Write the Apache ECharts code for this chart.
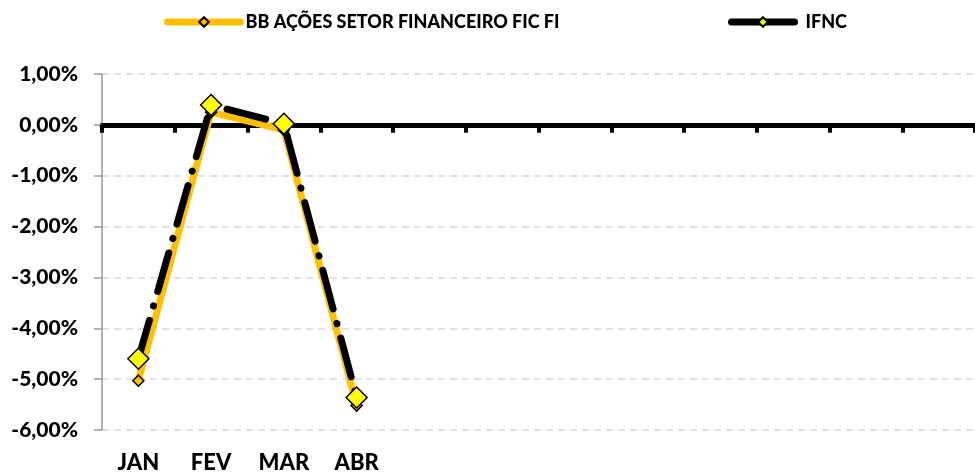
<!DOCTYPE html>
<html>
<head>
<meta charset="utf-8">
<script src="https://cdn.jsdelivr.net/npm/echarts@6/dist/echarts.min.js"></script>
<style>
  html, body { margin: 0; padding: 0; background: #fff; }
  #chart { width: 975px; height: 474px; }
</style>
</head>
<body>
<div id="chart"></div>
<script>
// meses (só os 4 primeiros têm dados)
var months = ["JAN", "FEV", "MAR", "ABR", "MAI", "JUN", "JUL", "AGO", "SET", "OUT", "NOV", "DEZ"];
// rentabilidade mensal, em %
var bbFundo = [-5.03, 0.25, -0.10, -5.52];
var ifnc = [-4.60, 0.39, 0.02, -5.36];
var nomeFundo = "BB AÇÕES SETOR FINANCEIRO FIC FI";
var nomeIndice = "IFNC";

var fonte = "Lato, 'Open Sans', sans-serif";
var chart = echarts.init(document.getElementById("chart"));

var option = {
    animation: false,
    backgroundColor: "#fff",
    textStyle: { fontFamily: fonte },
    legend: [ {
        data: [ nomeFundo ],
        left: 164,
        top: 13,
        padding: 0,
        itemWidth: 73,
        itemHeight: 12,
        lineStyle: { type: "solid", cap: "round", width: 7 },
        textStyle: { fontFamily: fonte, fontWeight: 900, fontSize: 18, color: "#000" }
    }, {
        data: [ nomeIndice ],
        left: 728,
        top: 13,
        padding: 0,
        itemWidth: 63,
        itemHeight: 12,
        lineStyle: { type: "solid", cap: "round", width: 7 },
        textStyle: { fontFamily: fonte, fontWeight: 900, fontSize: 18, color: "#000", padding: [ 0, 0, 0, 6 ] }
    } ],
    grid: { left: 102, right: 0, top: 74, bottom: 44 },
    xAxis: [ {
        type: "category",
        data: months,
        position: "bottom",
        boundaryGap: true,
        axisLine: { onZero: true, lineStyle: { color: "#000", width: 5 } },
        axisTick: { show: true, length: 8, lineStyle: { color: "#000", width: 4 } },
        axisLabel: { show: false },
        splitLine: { show: false }
    }, {
        type: "category",
        data: months,
        position: "bottom",
        boundaryGap: true,
        axisLine: { show: false, onZero: false },
        axisTick: { show: false },
        axisLabel: {
            show: true,
            margin: 22,
            interval: 0,
            fontFamily: fonte,
            fontWeight: 900,
            fontSize: 22,
            color: "#000",
            formatter: function(v, i) {
                return i < bbFundo.length ? v : "";
            }
        },
        splitLine: { show: false }
    } ],
    yAxis: {
        type: "value",
        min: -6,
        max: 1,
        interval: 1,
        axisLine: { show: true, lineStyle: { color: "#999", width: 1.5 } },
        axisTick: { show: true, length: 8, lineStyle: { color: "#999", width: 1.5 } },
        axisLabel: {
            margin: 24,
            fontFamily: fonte,
            fontWeight: 900,
            fontSize: 21,
            color: "#000",
            formatter: function(v) {
                return v.toFixed(2).replace(".", ",") + "%";
            }
        },
        splitLine: { show: true, lineStyle: { color: "#d9d9d9", width: 1.5, type: [ 7, 5 ] } }
    },
    series: [ {
        name: nomeFundo,
        type: "line",
        xAxisIndex: 0,
        data: bbFundo,
        symbol: "diamond",
        symbolSize: 11,
        showAllSymbol: true,
        lineStyle: { color: "#FFC000", width: 7, cap: "round", join: "round" },
        itemStyle: { color: "#FFC000", borderColor: "#000", borderWidth: 1.5 }
    }, {
        name: nomeIndice,
        type: "line",
        xAxisIndex: 0,
        data: ifnc,
        symbol: "diamond",
        symbolSize: 21,
        showAllSymbol: true,
        lineStyle: { color: "#000", width: 7, type: [ 40, 15, 0.1, 15 ], cap: "round", join: "round" },
        itemStyle: { color: "#FFFF00", borderColor: "#000", borderWidth: 1.5 }
    } ]
};

chart.setOption(option);
</script>
</body>
</html>
